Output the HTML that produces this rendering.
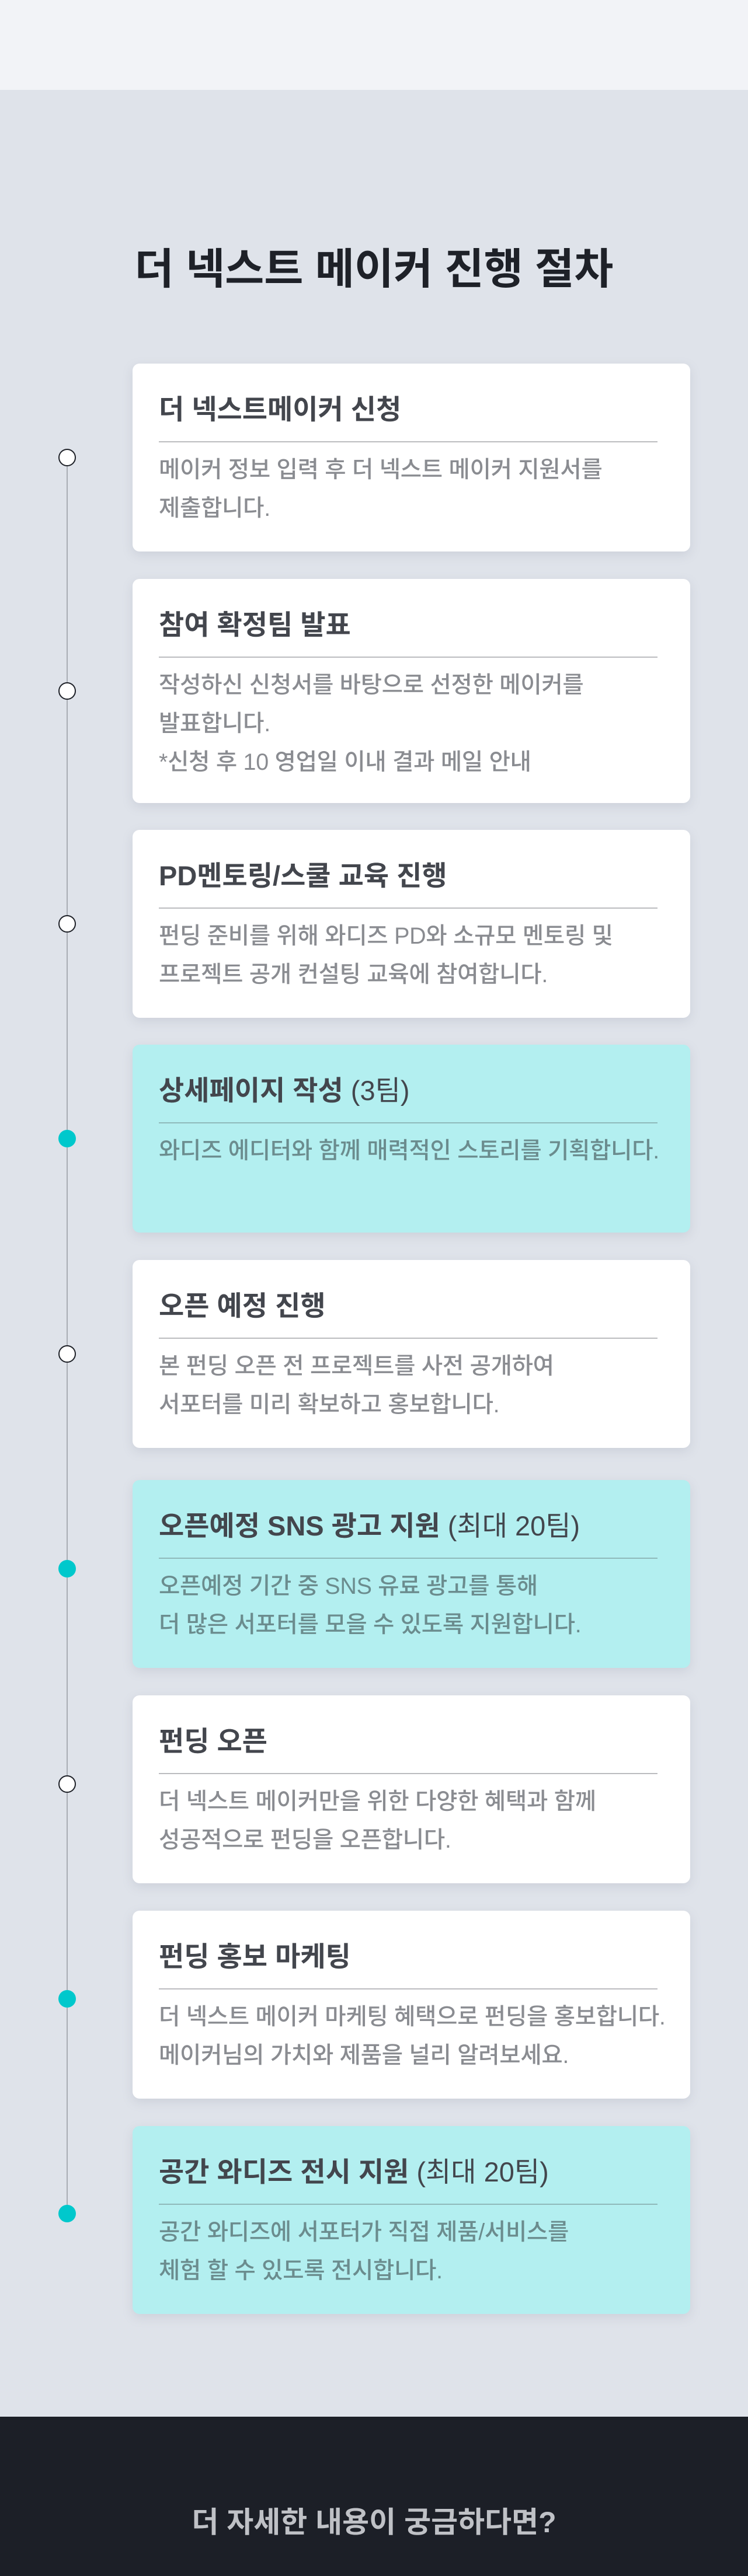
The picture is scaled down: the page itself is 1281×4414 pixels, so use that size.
<!DOCTYPE html>
<html><head><meta charset="utf-8"><style>
*{margin:0;padding:0;box-sizing:border-box}
body{width:1281px;height:4414px;position:relative;background:#dfe3ea;font-family:"Liberation Sans","Noto Sans CJK KR",sans-serif;overflow:hidden}
.top{position:absolute;left:0;top:0;width:1281px;height:154px;background:#f2f3f7}
.h1{position:absolute;left:0;width:1281px;top:418px;text-align:center;font-size:73px;font-weight:700;color:#1e2128;line-height:88px}
.line{position:absolute;left:114px;top:784px;width:2px;height:3009px;background:#a8acb3}
.dot{position:absolute;left:100px;width:30px;height:30px;border-radius:50%;margin-top:-15px}
.o{background:#fff;border:2.5px solid #1e2128}
.f{background:#00c8cc}
.card{position:absolute;left:227px;width:955px;height:322px;background:#fff;border-radius:12px;box-shadow:0 6px 18px rgba(120,130,150,.18)}
.t{background:#b3eff0}
.card .ti{position:absolute;left:45px;top:49px;line-height:60px;font-size:47px;font-weight:700;color:#43464d;white-space:nowrap}
.card .ti span{font-weight:400}
.card .dv{position:absolute;left:45px;top:133px;width:854px;height:2px;background:#bbbcbf}
.t .dv{background:#8fb9ba}
.card .bd{position:absolute;left:45px;top:149px;line-height:66px;font-size:39.5px;font-weight:500;color:#8a8c91;white-space:nowrap;letter-spacing:-0.3px}
.t .bd{color:#6b8c8e}
.foot{position:absolute;left:0;top:4141px;width:1281px;height:273px;background:#1c1f27}
.foot div{position:absolute;left:0;width:1281px;top:148px;text-align:center;font-size:50px;font-weight:700;color:#bfc1c6;line-height:66px}
</style></head><body>
<div class="top"></div>
<div class="h1">더 넥스트 메이커 진행 절차</div>
<div class="line"></div>

<div class="card" style="top:623px"><div class="ti">더 넥스트메이커 신청</div><div class="dv"></div><div class="bd">메이커 정보 입력 후 더 넥스트 메이커 지원서를<br>제출합니다.</div></div>
<div class="card" style="top:992px;height:384px"><div class="ti">참여 확정팀 발표</div><div class="dv"></div><div class="bd">작성하신 신청서를 바탕으로 선정한 메이커를<br>발표합니다.<br>*신청 후 10 영업일 이내 결과 메일 안내</div></div>
<div class="card" style="top:1422px"><div class="ti">PD멘토링/스쿨 교육 진행</div><div class="dv"></div><div class="bd">펀딩 준비를 위해 와디즈 PD와 소규모 멘토링 및<br>프로젝트 공개 컨설팅 교육에 참여합니다.</div></div>
<div class="card t" style="top:1790px"><div class="ti">상세페이지 작성 <span>(3팀)</span></div><div class="dv"></div><div class="bd">와디즈 에디터와 함께 매력적인 스토리를 기획합니다.</div></div>
<div class="card" style="top:2159px"><div class="ti">오픈 예정 진행</div><div class="dv"></div><div class="bd">본 펀딩 오픈 전 프로젝트를 사전 공개하여<br>서포터를 미리 확보하고 홍보합니다.</div></div>
<div class="card t" style="top:2536px"><div class="ti">오픈예정 SNS 광고 지원 <span>(최대 20팀)</span></div><div class="dv"></div><div class="bd">오픈예정 기간 중 SNS 유료 광고를 통해<br>더 많은 서포터를 모을 수 있도록 지원합니다.</div></div>
<div class="card" style="top:2905px"><div class="ti">펀딩 오픈</div><div class="dv"></div><div class="bd">더 넥스트 메이커만을 위한 다양한 혜택과 함께<br>성공적으로 펀딩을 오픈합니다.</div></div>
<div class="card" style="top:3274px"><div class="ti">펀딩 홍보 마케팅</div><div class="dv"></div><div class="bd">더 넥스트 메이커 마케팅 혜택으로 펀딩을 홍보합니다.<br>메이커님의 가치와 제품을 널리 알려보세요.</div></div>
<div class="card t" style="top:3643px"><div class="ti">공간 와디즈 전시 지원 <span>(최대 20팀)</span></div><div class="dv"></div><div class="bd">공간 와디즈에 서포터가 직접 제품/서비스를<br>체험 할 수 있도록 전시합니다.</div></div>

<div class="dot o" style="top:784px"></div>
<div class="dot o" style="top:1184px"></div>
<div class="dot o" style="top:1583px"></div>
<div class="dot f" style="top:1951px"></div>
<div class="dot o" style="top:2320px"></div>
<div class="dot f" style="top:2688px"></div>
<div class="dot o" style="top:3057px"></div>
<div class="dot f" style="top:3425px"></div>
<div class="dot f" style="top:3793px"></div>

<div class="foot"><div>더 자세한 내용이 궁금하다면?</div></div>
</body></html>
